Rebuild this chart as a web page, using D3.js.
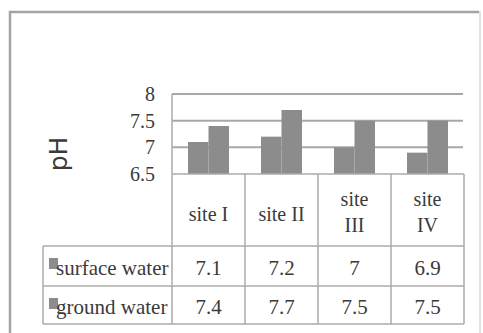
<!DOCTYPE html>
<html>
<head>
<meta charset="utf-8">
<script src="https://cdn.jsdelivr.net/npm/d3@7"></script>
<style>
  html, body { margin: 0; padding: 0; background: #fff; }
  svg { display: block; }
</style>
</head>
<body>
<svg id="chart" width="483" height="333"></svg>
<script>
// pH of surface and ground water at four sites
const sites = ["site I", "site II", "site III", "site IV"];
const siteLines = [["site I"], ["site II"], ["site", "III"], ["site", "IV"]];
const seriesNames = ["surface water", "ground water"];
const surfaceWater = [7.1, 7.2, 7.0, 6.9];
const groundWater = [7.4, 7.7, 7.5, 7.5];
const valueLabels = [["7.1", "7.2", "7", "6.9"], ["7.4", "7.7", "7.5", "7.5"]];
const yTicks = [6.5, 7, 7.5, 8];
const yTickLabels = ["6.5", "7", "7.5", "8"];
const yLabel = "pH";

const seriesValues = [surfaceWater, groundWater];
const barColor = "#8c8c8c";
const gridColor = "#a8a8a8";
const tableColor = "#ababab";
const serif = "'Liberation Serif'";
const textColor = "#3a3a3a";

const svg = d3.select("#chart");

// Outer frame
svg.append("rect")
  .attr("x", 10).attr("y", 12)
  .attr("width", 470).attr("height", 340)
  .attr("fill", "#fff")
  .attr("stroke", "#d8d8d8").attr("stroke-width", 1.5);
svg.append("path")
  .attr("d", "M10,352 V12 H479")
  .attr("fill", "none")
  .attr("stroke", "#a4a4a4").attr("stroke-width", 2.5);

const plotLeft = 172, plotRight = 464;
const plotTop = 94, plotBottom = 174;
const headerBottom = 246, row1Bottom = 286, row2Bottom = 324;
const legendLeft = 43;

const x0 = d3.scaleBand().domain(sites).range([plotLeft, plotRight]).padding(0);
const x1 = d3.scaleBand().domain(seriesNames).range([0, x0.bandwidth()])
  .paddingInner(0).paddingOuter(0.78);
const y = d3.scaleLinear().domain([6.5, 8]).range([plotBottom, plotTop]);

// Horizontal gridlines
svg.append("g").selectAll("line")
  .data(yTicks.slice(1))
  .join("line")
  .attr("x1", plotLeft).attr("x2", plotRight - 1)
  .attr("y1", d => y(d)).attr("y2", d => y(d))
  .attr("stroke", gridColor).attr("stroke-width", 2);

// Y axis tick labels
const yAxis = d3.axisLeft(y).tickValues(yTicks)
  .tickFormat((d, i) => yTickLabels[i]).tickSize(0).tickPadding(17);
const yg = svg.append("g").attr("transform", `translate(${plotLeft},0)`).call(yAxis);
yg.select(".domain").remove();
yg.selectAll("text")
  .style("font-family", serif)
  .style("font-size", "20px")
  .style("fill", textColor)
  .attr("dy", "0.32em");

// Y axis title
svg.append("text")
  .attr("transform", `translate(67,154) rotate(-90)`)
  .attr("text-anchor", "middle")
  .style("font-family", "'DejaVu Sans'")
  .style("font-size", "25px")
  .style("fill", textColor)
  .text(yLabel);

// Bars
const groups = svg.append("g").selectAll("g")
  .data(sites)
  .join("g")
  .attr("transform", d => `translate(${x0(d)},0)`);
groups.selectAll("rect")
  .data((d, i) => seriesNames.map((s, j) => ({ s, v: seriesValues[j][i] })))
  .join("rect")
  .attr("x", d => x1(d.s))
  .attr("y", d => y(d.v))
  .attr("width", x1.bandwidth())
  .attr("height", d => plotBottom - y(d.v))
  .attr("fill", barColor);

// Plot-area left edge
svg.append("line")
  .attr("x1", plotLeft).attr("x2", plotLeft)
  .attr("y1", plotTop).attr("y2", plotBottom)
  .attr("stroke", tableColor).attr("stroke-width", 1.5);

// Data table grid
const table = svg.append("g")
  .attr("stroke", tableColor).attr("stroke-width", 1.5).attr("fill", "none");
table.append("line").attr("x1", plotLeft).attr("x2", plotRight)
  .attr("y1", plotBottom).attr("y2", plotBottom);
[headerBottom, row1Bottom, row2Bottom].forEach(yy => {
  table.append("line").attr("x1", legendLeft).attr("x2", plotRight)
    .attr("y1", yy).attr("y2", yy);
});
table.append("line").attr("x1", legendLeft).attr("x2", legendLeft)
  .attr("y1", headerBottom).attr("y2", row2Bottom);
sites.forEach(s => {
  table.append("line").attr("x1", x0(s)).attr("x2", x0(s))
    .attr("y1", plotBottom).attr("y2", row2Bottom);
});
table.append("line").attr("x1", plotRight).attr("x2", plotRight)
  .attr("y1", plotBottom).attr("y2", row2Bottom);

function serifText(sel, size) {
  return sel.style("font-family", serif).style("font-size", size + "px").style("fill", textColor);
}

// Header labels
const header = serifText(svg.append("g").selectAll("text")
  .data(sites)
  .join("text")
  .attr("text-anchor", "middle"), 20);
header.each(function(d, i) {
  const lines = siteLines[i];
  const el = d3.select(this);
  const cx = x0(d) + x0.bandwidth() / 2;
  if (lines.length === 1) {
    el.append("tspan").attr("x", cx).attr("y", 221).text(lines[0]);
  } else {
    lines.forEach((t, k) => {
      el.append("tspan").attr("x", cx).attr("y", 206 + k * 26).text(t);
    });
  }
});

// Value rows
const rowBase = [275, 314];
seriesNames.forEach((name, j) => {
  const top = j === 0 ? headerBottom : row1Bottom;
  svg.append("rect")
    .attr("x", 49).attr("y", top + 12)
    .attr("width", 9).attr("height", 11)
    .attr("fill", barColor);
  serifText(svg.append("text"), 21)
    .attr("x", 56).attr("y", rowBase[j])
    .text(name);
  serifText(svg.append("g").selectAll("text")
    .data(sites)
    .join("text"), 21)
    .attr("text-anchor", "middle")
    .attr("x", d => x0(d) + x0.bandwidth() / 2)
    .attr("y", rowBase[j])
    .text((d, i) => valueLabels[j][i]);
});
</script>
</body>
</html>
